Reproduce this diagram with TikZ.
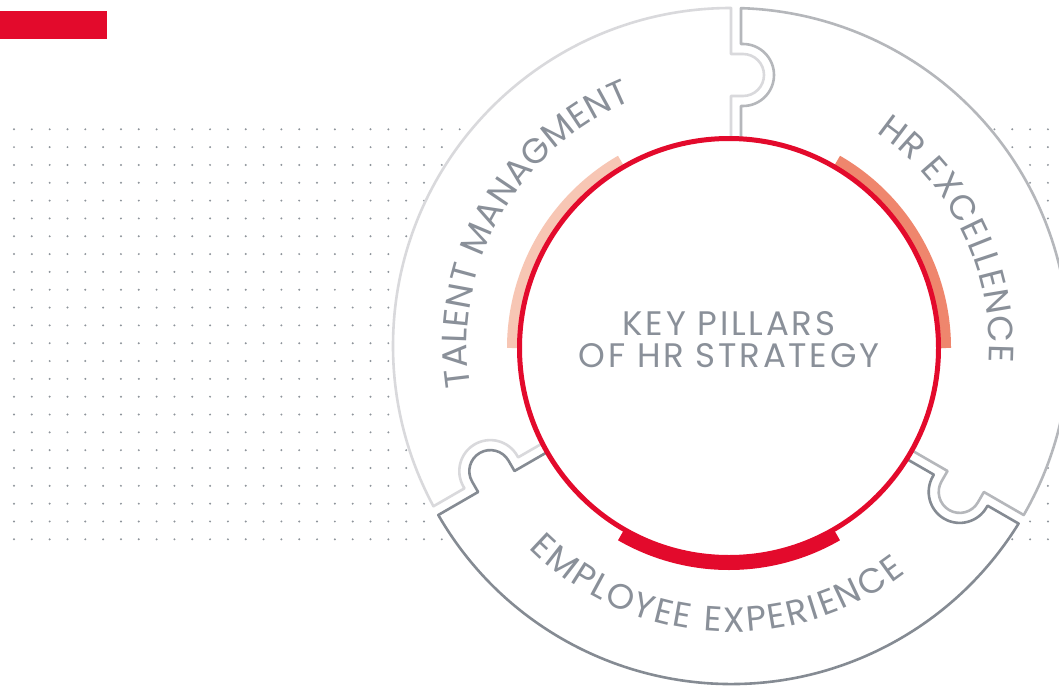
\documentclass[tikz,border=0pt]{standalone}
\usepackage{fontspec}
\newfontfamily\pop{Poppins}
\newfontfamily\popwide{Poppins}[LetterSpace=8]
\usetikzlibrary{decorations.text}
\definecolor{brandred}{HTML}{E30A2C}
\definecolor{dotgray}{HTML}{8E949B}
\definecolor{txtgray}{HTML}{8A9099}
\definecolor{pieceA}{HTML}{D9D9DC}
\definecolor{pieceB}{HTML}{B5B7BB}
\definecolor{pieceC}{HTML}{858B93}
\definecolor{accTal}{HTML}{F7C6B4}
\definecolor{accHR}{HTML}{EF866D}
\tikzset{
  piece/.style={line width=2.6, line join=round, fill=white},
  accent/.style={line width=11},
  arctext/.style={decorate, decoration={text along path, text align={fit to path},
      text={|\pop\fontsize{35}{35}\selectfont\color{txtgray}|#1}}},
  title/.style={font=\popwide\fontsize{34}{34}\selectfont, text=txtgray, anchor=base, inner sep=0}
}
\begin{document}
\begin{tikzpicture}[x=1pt,y=1pt]
\useasboundingbox (0,0) rectangle (1059,-685);
\fill[white] (0,0) rectangle (1059,-685);

% dotted background grid
\foreach \i in {0,...,58}
  \foreach \j in {0,...,23}
    \fill[dotgray] ({14+17.826*\i},{-129.3-17.826*\j}) circle[radius=1.1];

% red tag
\fill[brandred] (0,-11) rectangle (107,-39);

% puzzle ring
\begin{scope}[shift={(731,-346)}]
  \fill[white] (0,0) circle[radius=338];
  \foreach \rot/\col in {0/pieceA,-120/pieceB,120/pieceC}{
    \draw[piece, draw=\col, rotate=\rot]
      (0,338) arc[start angle=90, end angle=208.305, radius=338]
      -- (-266.54,-142.34) -- (-267.54,-140.61)
      arc[start angle=210, end angle=30, radius=31]
      -- (-212.85,-111.34) -- (-177.99,-91.21)
      arc[start angle=207.13, end angle=90, radius=200]
      -- (0,250) -- (12,250)
      arc[start angle=-90, end angle=90, radius=21]
      -- (0,292) -- cycle;
  }
  % labels along the ring
  \path[arctext={TALENT MANAGMENT}] (188.9:264) arc[start angle=188.9, end angle=112, radius=264];
  \path[arctext={HR EXCELLENCE}] (55.8:258) arc[start angle=55.8, end angle=-3.6, radius=258];
  \path[arctext={EMPLOYEE EXPERIENCE}] (225:286) arc[start angle=225, end angle=307.6, radius=286];
\end{scope}

% core circle with accents
\begin{scope}[shift={(729,-348)}]
  \draw[accent, accTal] (120:216.5) arc[start angle=120, end angle=180, radius=216.5];
  \draw[accent, accHR] (0:216.5) arc[start angle=0, end angle=60, radius=216.5];
  \draw[accent, brandred] (240:216.5) arc[start angle=240, end angle=300, radius=216.5];
  \draw[line width=5, brandred, fill=white] (0,0) circle[radius=209.5];
\end{scope}

\node[title] (line1) at (729,-335) {KEY PILLARS};
\node[title] (line2) at (729,-367) {OF HR STRATEGY};
\end{tikzpicture}
\end{document}
